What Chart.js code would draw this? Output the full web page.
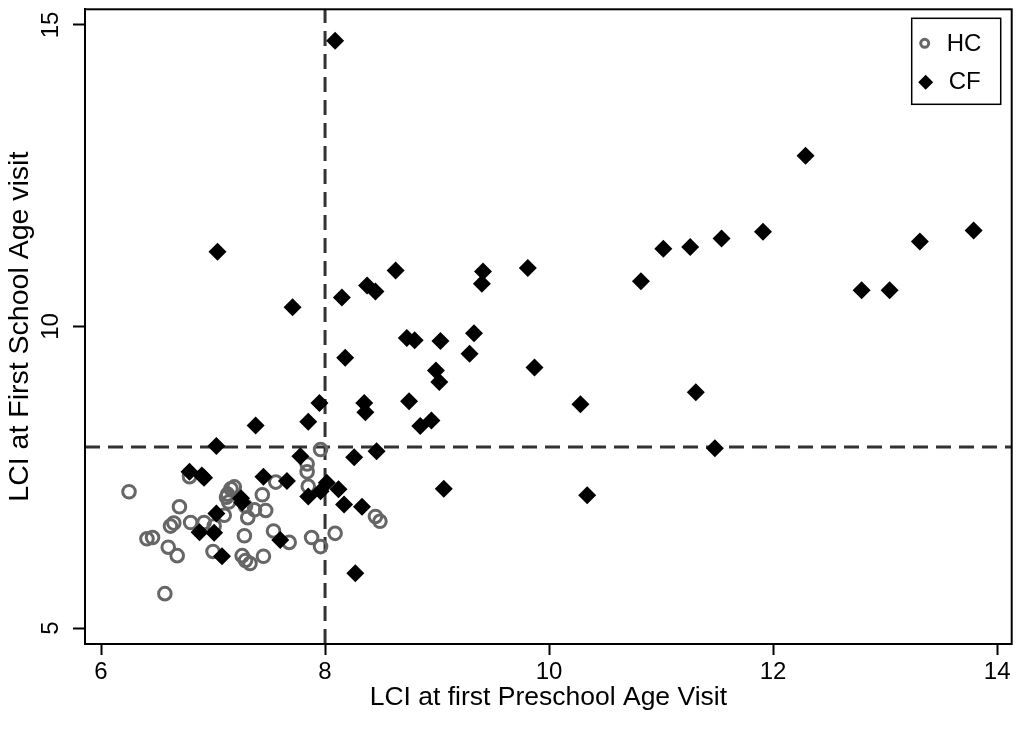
<!DOCTYPE html>
<html>
<head>
<meta charset="utf-8">
<script src="https://cdn.jsdelivr.net/npm/chart.js@4/dist/chart.umd.min.js"></script>
<style>
  html, body { margin: 0; padding: 0; background: #fff; }
  #wrap { width: 1021px; height: 729px; }
</style>
</head>
<body>
<div id="wrap"><canvas id="lciChart" width="1021" height="729"></canvas></div>
<script>
// healthy controls (HC)
const hcX = [6.25, 6.70, 6.62, 6.65, 6.41, 6.46, 6.60, 6.68, 6.57, 6.79, 6.80, 6.92, 7.01, 7.00,
  7.12, 7.13, 7.16, 7.19, 7.14, 7.10, 7.29, 7.31, 7.37, 7.47, 7.44, 7.28, 7.26, 7.29, 7.33, 7.45,
  7.56, 7.54, 7.68, 7.84, 7.84, 7.85, 7.96, 7.88, 7.96, 8.09, 8.45, 8.49];
const hcY = [7.26, 7.01, 6.69, 6.74, 6.48, 6.50, 6.34, 6.20, 5.57, 7.51, 6.75, 6.75, 6.69, 6.27,
  7.17, 7.22, 7.31, 7.34, 7.09, 6.87, 7.02, 6.83, 6.96, 6.95, 7.21, 6.53, 6.20, 6.12, 6.07, 6.19,
  7.42, 6.61, 6.42, 7.72, 7.59, 7.35, 7.96, 6.50, 6.35, 6.57, 6.85, 6.77];

// cystic fibrosis (CF)
const cfX = [8.09, 12.29, 7.04, 11.02, 11.26, 11.54, 11.91, 13.79, 13.31, 9.81, 10.82, 12.79, 13.04,
  8.63, 9.41, 9.40, 8.375, 8.45, 8.15, 7.71, 8.73, 8.80, 9.03, 9.33, 9.29, 8.18, 8.99, 9.02, 9.87,
  8.75, 8.85, 8.95, 10.28, 11.31, 7.95, 8.35, 8.36, 7.38, 7.85, 7.03, 11.48, 9.06, 10.34, 7.78,
  8.26, 8.46, 7.66, 8.015, 7.96, 8.12, 7.85, 8.17, 8.33, 8.27, 7.60, 6.79, 6.90, 6.92, 7.45, 7.25,
  7.26, 7.03, 6.88, 7.01, 7.08];
const cfY = [14.74, 12.83, 11.24, 11.29, 11.32, 11.46, 11.57, 11.59, 11.41, 10.97, 10.75, 10.60, 10.60,
  10.93, 10.91, 10.71, 10.68, 10.58, 10.48, 10.32, 9.81, 9.77, 9.76, 9.89, 9.55, 9.48, 9.27, 9.08, 9.32,
  8.76, 8.35, 8.44, 8.71, 8.91, 8.73, 8.73, 8.58, 8.36, 8.42, 8.02, 7.98, 7.31, 7.20, 7.85,
  7.83, 7.93, 7.44, 7.41, 7.27, 7.30, 7.18, 7.05, 7.01, 5.91, 6.46, 7.59, 7.53, 7.49, 7.51, 7.15,
  7.08, 6.90, 6.59, 6.58, 6.19];

const xTicks = [6, 8, 10, 12, 14];
const yTicks = [5, 10, 15];
const cutX = 8;
const cutY = 8;

const FONT = 'Liberation Sans, Arial, sans-serif';
const GREY = '#666666';

const toPoints = (xs, ys) => xs.map((x, i) => ({ x: x, y: ys[i] }));

// dashed cut-off lines, frame round the plot, legend box
const framePlugin = {
    id: 'frame',
    beforeDatasetsDraw(chart) {
        const { ctx, chartArea: a, scales: { x, y } } = chart;
        ctx.save();
        ctx.strokeStyle = '#333';
        ctx.lineWidth = 3;
        ctx.setLineDash([15, 8]);
        const px = x.getPixelForValue(cutX);
        ctx.beginPath();
        ctx.moveTo(px, a.bottom);
        ctx.lineTo(px, a.top);
        ctx.stroke();
        const py = y.getPixelForValue(cutY);
        ctx.beginPath();
        ctx.moveTo(a.left, py);
        ctx.lineTo(a.right, py);
        ctx.stroke();
        ctx.restore();
    },
    afterDraw(chart) {
        const { ctx, chartArea: a } = chart;
        ctx.save();
        ctx.strokeStyle = '#000';
        ctx.lineWidth = 2;
        ctx.strokeRect(a.left, a.top, a.right - a.left, a.bottom - a.top);

        const bx = a.right - 100, by = a.top + 9, bw = 89, bh = 86;
        ctx.fillStyle = '#fff';
        ctx.fillRect(bx, by, bw, bh);
        ctx.lineWidth = 1.5;
        ctx.strokeRect(bx, by, bw, bh);

        ctx.strokeStyle = GREY;
        ctx.lineWidth = 3;
        ctx.beginPath();
        ctx.arc(bx + 13, by + 25, 4, 0, Math.PI * 2);
        ctx.stroke();

        ctx.fillStyle = '#000';
        const dx = bx + 14, dy = by + 64, r = 7.5;
        ctx.beginPath();
        ctx.moveTo(dx, dy - r);
        ctx.lineTo(dx + r, dy);
        ctx.lineTo(dx, dy + r);
        ctx.lineTo(dx - r, dy);
        ctx.closePath();
        ctx.fill();

        ctx.font = '24px ' + FONT;
        ctx.textBaseline = 'middle';
        ctx.textAlign = 'left';
        ctx.fillText('HC', bx + 35, by + 26);
        ctx.fillText('CF', bx + 37, by + 64);
        ctx.restore();
    }
};

new Chart(document.getElementById('lciChart'), {
    type: 'scatter',
    data: {
        datasets: [{
            label: 'HC',
            data: toPoints(hcX, hcY),
            pointStyle: 'circle',
            pointRadius: 6.3,
            pointHoverRadius: 6.3,
            borderWidth: 3,
            borderColor: GREY,
            backgroundColor: 'rgba(0,0,0,0)',
            order: 2
        }, {
            label: 'CF',
            data: toPoints(cfX, cfY),
            pointStyle: 'rectRot',
            pointRadius: 9,
            pointHoverRadius: 9,
            borderWidth: 0,
            borderColor: '#000',
            backgroundColor: '#000',
            order: 1
        }]
    },
    options: {
        responsive: false,
        animation: false,
        devicePixelRatio: 1,
        layout: { padding: { top: 8, right: 9, left: 0, bottom: 0 } },
        plugins: {
            legend: { display: false },
            tooltip: { enabled: false }
        },
        scales: {
            x: {
                type: 'linear',
                min: 5.857,
                max: 14.13,
                afterBuildTicks: s => { s.ticks = xTicks.map(v => ({ value: v })); },
                afterFit: s => { s.height = 85; s.paddingLeft = 0; s.paddingRight = 0; },
                grid: {
                    display: true, drawOnChartArea: false, drawTicks: true,
                    tickLength: 11, tickWidth: 2, tickColor: '#000'
                },
                border: { display: true, color: '#000', width: 2 },
                ticks: { color: '#000', font: { family: FONT, size: 24 }, padding: 3, maxRotation: 0 },
                title: {
                    display: true,
                    text: 'LCI at first Preschool Age Visit',
                    color: '#000',
                    font: { family: FONT, size: 26.5 },
                    padding: { top: 0, bottom: 15 }
                }
            },
            y: {
                type: 'linear',
                min: 4.735,
                max: 15.26,
                afterBuildTicks: s => { s.ticks = yTicks.map(v => ({ value: v })); },
                afterFit: s => { s.width = 85; s.paddingTop = 0; s.paddingBottom = 0; },
                grid: {
                    display: true, drawOnChartArea: false, drawTicks: true,
                    tickLength: 12, tickWidth: 2, tickColor: '#000'
                },
                border: { display: true, color: '#000', width: 2 },
                ticks: {
                    color: '#000', font: { family: FONT, size: 24 },
                    minRotation: 90, maxRotation: 90, crossAlign: 'center', padding: 8
                },
                title: {
                    display: true,
                    text: 'LCI at First School Age visit',
                    color: '#000',
                    font: { family: FONT, size: 28.5 },
                    padding: { top: 3, bottom: 0 }
                }
            }
        }
    },
    plugins: [framePlugin]
});
</script>
</body>
</html>
